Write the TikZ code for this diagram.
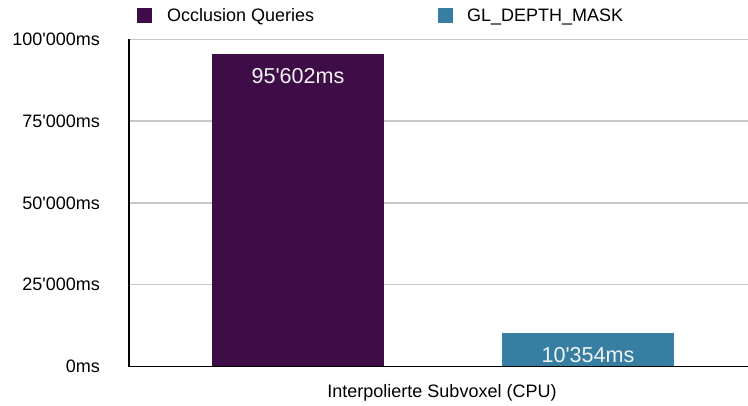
\documentclass[tikz,border=0pt]{standalone}
\usepackage{fontspec}
\setmainfont{Liberation Sans}[Ligatures=TeXOff]
\usetikzlibrary{positioning}

\definecolor{oqpurple}{HTML}{3E0D47}
\definecolor{dmteal}{HTML}{367FA2}
\definecolor{gridgray}{HTML}{C8C8C8}

\begin{document}
\begin{tikzpicture}[
    x=1pt, y=1pt,
    every node/.style={font=\fontsize{18}{22}\selectfont, inner sep=0pt},
    ticklabel/.style={anchor=east},
    barlabel/.style={anchor=base, text=white!95!black, yshift=-29.5pt, font=\fontsize{21.6}{26}\selectfont},
    legendbox/.style={rectangle, minimum width=15pt, minimum height=15pt},
    legendtext/.style={anchor=base west},
    gridline/.style={draw=gridgray, line width=1.3pt},
    axisline/.style={draw=black, line width=1.2pt}
]
\useasboundingbox (0,0) rectangle (748,406);

% Legend
\node[legendbox, fill=oqpurple] (keyoq) at (144.5,390.5) {};
\node[legendtext] (textoq) at (167,384.5) {Occlusion Queries};
\node[legendbox, fill=dmteal] (keydm) at (445.5,390.5) {};
\node[legendtext] (textdm) at (467,384.5) {GL\_DEPTH\_MASK};

% Plot area (1 unit = 1000ms)
\begin{scope}[shift={(129,39.5)}, y=3.272pt]
    \foreach \v in {25,50,75,100} {
        \draw[gridline] (0,\v) -- (619,\v);
        \node[ticklabel] (tick\v) at (-29,\v) {\v'000ms};
    }
    \node[ticklabel] (tick0) at (-29,0) {0ms};

    % Bars
    \fill[oqpurple] (83,0) rectangle (255,95.602);
    \fill[dmteal] (373,0) rectangle (545,10.354);
    \node[barlabel] (valoq) at (169,95.602) {95'602ms};
    \node[barlabel] (valdm) at (459,10.354) {10'354ms};

    % Axes
    \draw[axisline] (0,100) -- (0,0) -- (619,0);
\end{scope}

\node[anchor=base] (xlabel) at (442,8) {Interpolierte Subvoxel (CPU)};

\end{tikzpicture}
\end{document}
